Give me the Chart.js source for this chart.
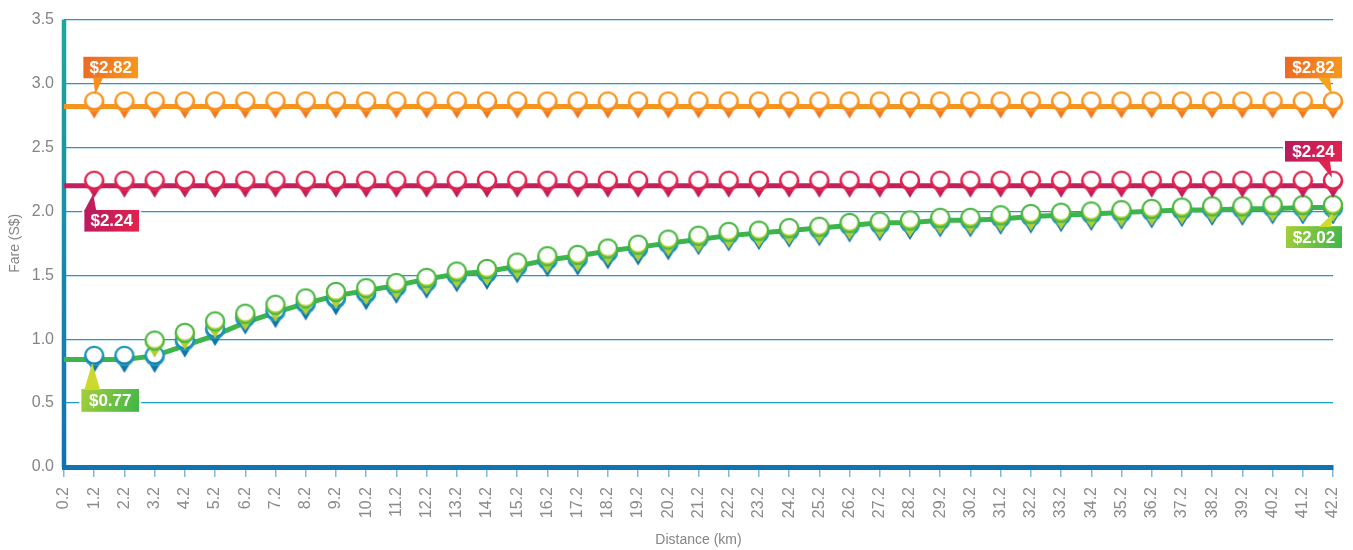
<!DOCTYPE html>
<html>
<head>
<meta charset="utf-8">
<script src="https://cdn.jsdelivr.net/npm/chart.js@4"></script>
<style>
  html, body { margin: 0; padding: 0; background: #fff; }
  #wrap { width: 1353px; height: 550px; }
</style>
</head>
<body>
<div id="wrap"><canvas id="fare-chart"></canvas></div>
<script>
const distanceLabels = [
  '0.2','1.2','2.2','3.2','4.2','5.2','6.2','7.2','8.2','9.2','10.2',
  '11.2','12.2','13.2','14.2','15.2','16.2','17.2','18.2','19.2','20.2',
  '21.2','22.2','23.2','24.2','25.2','26.2','27.2','28.2','29.2','30.2',
  '31.2','32.2','33.2','34.2','35.2','36.2','37.2','38.2','39.2','40.2',
  '41.2','42.2'
];

const orangeFare = [
  2.82,2.82,2.82,2.82,2.82,2.82,2.82,2.82,2.82,2.82,2.82,
  2.82,2.82,2.82,2.82,2.82,2.82,2.82,2.82,2.82,2.82,
  2.82,2.82,2.82,2.82,2.82,2.82,2.82,2.82,2.82,2.82,
  2.82,2.82,2.82,2.82,2.82,2.82,2.82,2.82,2.82,2.82,
  2.82,2.82
];

const crimsonFare = [
  2.2,2.2,2.2,2.2,2.2,2.2,2.2,2.2,2.2,2.2,2.2,
  2.2,2.2,2.2,2.2,2.2,2.2,2.2,2.2,2.2,2.2,
  2.2,2.2,2.2,2.2,2.2,2.2,2.2,2.2,2.2,2.2,
  2.2,2.2,2.2,2.2,2.2,2.2,2.2,2.2,2.2,2.2,
  2.2,2.2
];

const greenLine = [
  0.84,0.84,0.84,0.87,0.95,1.03,1.13,1.21,1.28,1.34,1.38,
  1.42,1.47,1.51,1.53,1.57,1.62,1.65,1.69,1.72,1.75,
  1.78,1.81,1.83,1.85,1.87,1.89,1.91,1.91,1.93,1.93,
  1.94,1.96,1.97,1.98,1.99,2.00,2.01,2.01,2.02,2.02,
  2.03,2.03
];

const bluePins = [
  null,0.83,0.83,0.83,0.95,1.04,1.13,1.18,1.24,1.28,1.32,
  1.37,1.41,1.46,1.48,1.53,1.58,1.59,1.64,1.67,1.71,
  1.75,1.78,1.79,1.81,1.82,1.85,1.86,1.87,1.89,1.89,
  1.91,1.92,1.93,1.94,1.95,1.96,1.97,1.98,1.98,1.99,
  1.99,1.99
];

const greenPins = [
  null,null,null,0.95,1.01,1.10,1.16,1.23,1.28,1.33,1.36,
  1.40,1.44,1.49,1.51,1.56,1.61,1.62,1.67,1.70,1.74,
  1.77,1.80,1.81,1.83,1.84,1.87,1.88,1.89,1.91,1.91,
  1.93,1.94,1.95,1.96,1.97,1.98,1.99,2.00,2.00,2.01,
  2.01,2.01
];

// callout boxes: dataset index, point index, box offset from the point
const callouts = [
  {text: '$2.82', ds: 0, i: 1, box: [-11, -50, 55, 22], base: [-1, 9], tip: [1, -12], c1: '#ec6625', c2: '#f89a1c', ptr: '#f5901f'},
  {text: '$2.82', ds: 0, i: 42, box: [-48, -50, 57, 22], base: [-15, -3], tip: [-1, -12], c1: '#ec6625', c2: '#f89a1c', ptr: '#f7a21b'},
  {text: '$2.24', ds: 1, i: 42, box: [-48, -45, 57, 21], base: [-15, -3], tip: [-1, -8], c1: '#b51b60', c2: '#e5234c', ptr: '#e0234f'},
  {text: '$2.24', ds: 1, i: 1, box: [-10, 24, 55, 22], base: [-10, 2], tip: [-1, 8], c1: '#b51b60', c2: '#e5234c', ptr: '#be1e5c'},
  {text: '$2.02', ds: 4, i: 42, box: [-47, 16, 56, 22], base: [-14, -2], tip: [0, 3], c1: '#a6cf38', c2: '#3fb54a', ptr: '#cfdc2c'},
  {text: '$0.77', ds: 3, i: 1, box: [-13, 28, 58, 23], base: [-10, 6], tip: [-2, 2], c1: '#a6cf38', c2: '#3fb54a', ptr: '#cbd92e'}
];

function makePin(ring, tipTop, tipBottom) {
  let c = document.createElement('canvas');
  c.width = 28;
  c.height = 46;
  let g = c.getContext('2d');
  let cx = 14, cy = 18;
  let grad = g.createLinearGradient(0, cy - 2, 0, cy + 17);
  grad.addColorStop(0, tipTop);
  grad.addColorStop(1, tipBottom);
  g.fillStyle = grad;
  g.beginPath();
  g.moveTo(cx - 8, cy + 4);
  g.lineTo(cx + 8, cy + 4);
  g.lineTo(cx, cy + 17);
  g.closePath();
  g.fill();
  g.beginPath();
  g.arc(cx, cy, 9.2, 0, Math.PI * 2);
  g.fill();
  g.beginPath();
  g.arc(cx, cy - 1.2, 7.8, 0, Math.PI * 2);
  g.fillStyle = '#ffffff';
  g.fill();
  g.beginPath();
  g.arc(cx, cy, 9.2, 0, Math.PI * 2);
  g.lineWidth = 2.2;
  g.strokeStyle = ring;
  g.stroke();
  return c;
}

const orangePin = makePin('#f7941d', '#f7941d', '#ef6f22');
const crimsonPin = makePin('#e2254f', '#d42356', '#bd1c5c');
const greenPin = makePin('#4eb848', '#cddc2b', '#a5cc39');
const bluePin = makePin('#1e97b6', '#1684b3', '#0e6fae');

const hideFirst = (ctx) => ctx.dataIndex === 0 ? 0 : 5;

const calloutPlugin = {
  id: 'callouts',
  afterDatasetsDraw(chart) {
    let ctx = chart.ctx;
    ctx.save();
    callouts.forEach(function(co){
      let pt = chart.getDatasetMeta(co.ds).data[co.i];
      let px = pt.x, py = pt.y;
      let bx = px + co.box[0], by = py + co.box[1], bw = co.box[2], bh = co.box[3];
      let grad = ctx.createLinearGradient(bx, by, bx + bw, by + bh);
      grad.addColorStop(0, co.c1);
      grad.addColorStop(1, co.c2);
      ctx.fillStyle = grad;
      ctx.fillRect(bx, by, bw, bh);
      ctx.lineWidth = 2;
      ctx.strokeStyle = '#ffffff';
      ctx.strokeRect(bx - 1, by - 1, bw + 2, bh + 2);
      let edge = co.box[1] < 0 ? by + bh - 1 : by + 1;
      ctx.beginPath();
      ctx.moveTo(px + co.base[0], edge);
      ctx.lineTo(px + co.base[1], edge);
      ctx.lineTo(px + co.tip[0], py + co.tip[1]);
      ctx.closePath();
      ctx.fillStyle = co.ptr;
      ctx.fill();
      ctx.fillStyle = '#ffffff';
      ctx.font = 'bold 17px "Liberation Sans", Arial, sans-serif';
      ctx.textAlign = 'center';
      ctx.textBaseline = 'middle';
      ctx.fillText(co.text, bx + bw / 2, by + bh / 2 + 1);
    });
    ctx.restore();
  }
};

const axisPlugin = {
  id: 'yAxisLine',
  beforeDatasetsDraw(chart) {
    let a = chart.chartArea;
    let ctx = chart.ctx;
    let grad = ctx.createLinearGradient(0, a.top, 0, a.bottom);
    grad.addColorStop(0, '#1fa79b');
    grad.addColorStop(1, '#0f72b4');
    ctx.save();
    ctx.strokeStyle = grad;
    ctx.lineWidth = 4.5;
    ctx.beginPath();
    ctx.moveTo(a.left, a.top);
    ctx.lineTo(a.left, a.bottom);
    ctx.stroke();
    ctx.restore();
  }
};

new Chart(document.getElementById('fare-chart'), {
  type: 'line',
  data: {
    labels: distanceLabels,
    datasets: [
      {label: 'orange', data: orangeFare, borderColor: '#f7941d', borderWidth: 5, pointStyle: orangePin, pointRadius: hideFirst, order: 1, clip: false},
      {label: 'crimson', data: crimsonFare, borderColor: '#c41f5c', borderWidth: 5, pointStyle: crimsonPin, pointRadius: hideFirst, order: 1, clip: false},
      {label: 'green line', data: greenLine, borderColor: '#3db54a', borderWidth: 5, pointRadius: 0, order: 5, clip: false},
      {label: 'blue', data: bluePins, showLine: false, pointStyle: bluePin, pointRadius: 5, order: 3, clip: false},
      {label: 'green', data: greenPins, showLine: false, pointStyle: greenPin, pointRadius: 5, order: 2, clip: false}
    ]
  },
  options: {
    responsive: true,
    maintainAspectRatio: false,
    animation: false,
    layout: { padding: { top: 17, right: 20, left: 0, bottom: 0 } },
    plugins: {
      legend: { display: false },
      tooltip: { enabled: false }
    },
    elements: { line: { tension: 0 } },
    scales: {
      x: {
        offset: false,
        afterFit: function(scale){
          scale.height = 83;
          scale.paddingLeft = 0;
          scale.paddingRight = 0;
        },
        grid: { drawOnChartArea: false, drawTicks: true, tickLength: 10, color: '#7fb8df', lineWidth: 1.5 },
        border: { color: '#0f74b4', width: 5 },
        ticks: {
          maxRotation: 90,
          minRotation: 90,
          autoSkip: false,
          padding: 10,
          color: '#8a8a8a',
          font: { family: '"Liberation Sans", Arial, sans-serif', size: 16 }
        },
        title: {
          display: true,
          text: 'Distance (km)',
          color: '#858585',
          padding: { top: 0, bottom: 1 },
          font: { family: '"Liberation Sans", Arial, sans-serif', size: 14 }
        }
      },
      y: {
        min: 0,
        max: 3.5,
        afterFit: function(scale){ scale.width = 64; },
        grid: { drawTicks: false, color: '#1b9dc0', lineWidth: 1.2 },
        border: { display: false },
        ticks: {
          stepSize: 0.5,
          padding: 10,
          color: '#858585',
          font: { family: '"Liberation Sans", Arial, sans-serif', size: 16 },
          callback: function(v){ return Number(v).toFixed(1); }
        },
        title: {
          display: true,
          text: 'Fare (S$)',
          color: '#858585',
          padding: { top: 7, bottom: 0 },
          font: { family: '"Liberation Sans", Arial, sans-serif', size: 14 }
        }
      }
    }
  },
  plugins: [axisPlugin, calloutPlugin]
});
</script>
</body>
</html>
